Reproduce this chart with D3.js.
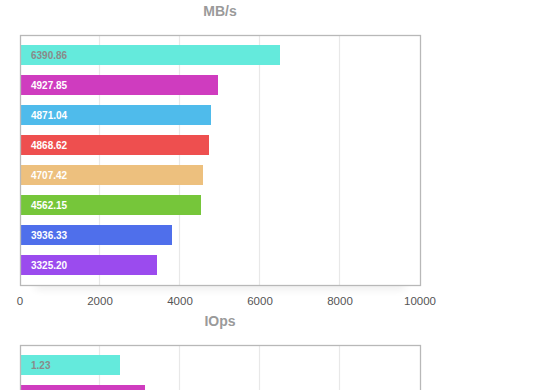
<!DOCTYPE html>
<html>
<head>
<meta charset="utf-8">
<script src="https://cdn.jsdelivr.net/npm/d3@7"></script>
<style>
	body { margin: 0; background: #fff; overflow: hidden; }
	svg { display: block; font-family: "Liberation Sans", Arial, Helvetica, sans-serif; }
</style>
</head>
<body>
<div id="chart"></div>
<script>
// bar lengths as drawn, and the text printed inside each bar
const mbValues = [6500, 4950, 4775, 4725, 4575, 4525, 3800, 3425];
const mbLabels = ["6390.86", "4927.85", "4871.04", "4868.62", "4707.42", "4562.15", "3936.33", "3325.20"];

// only the top of the second chart is in view
const iopsValues = [2500, 3125];
const iopsLabels = ["1.23"];

const barColors = ["#64eadc", "#cf3cbf", "#4fbbeb", "#ee4f4f", "#edc07e", "#76c63a", "#4f6feb", "#9b4bee"];
const xTicks = [0, 2000, 4000, 6000, 8000, 10000];
const slots = d3.range(8);

const WIDTH = 560;
const HEIGHT = 390;

const BOX = { LEFT: 20, RIGHT: 420, TOP: 35, BOTTOM: 285 };
const CHART_OFFSET = 310;

const svg = d3
	.select("#chart")
	.append("svg")
	.attr("width", WIDTH)
	.attr("height", HEIGHT);

const defs = svg.append("defs");
defs.append("filter")
	.attr("id", "shadow")
	.attr("x", "-20%").attr("y", "-200%")
	.attr("width", "140%").attr("height", "500%")
	.append("feGaussianBlur")
	.attr("stdDeviation", 4);

const xScale = d3.scaleLinear().domain([0, 10000]).range([BOX.LEFT, BOX.RIGHT]);
const yScale = d3
	.scaleBand()
	.domain(slots)
	.range([BOX.TOP, BOX.BOTTOM])
	.paddingInner(1 / 3)
	.paddingOuter(1 / 3);

function drawChart(g, title, values, labels, showTicks) {
	// title
	g.append("text")
		.attr("x", (BOX.LEFT + BOX.RIGHT) / 2)
		.attr("y", 16)
		.attr("text-anchor", "middle")
		.style("font-size", "14px")
		.style("font-weight", "bold")
		.style("fill", "#9a9a9a")
		.text(title);

	// soft shadow under the box
	g.append("rect")
		.attr("x", BOX.LEFT + 15)
		.attr("y", BOX.BOTTOM - 4)
		.attr("width", BOX.RIGHT - BOX.LEFT - 30)
		.attr("height", 8)
		.attr("fill", "#000")
		.attr("opacity", 0.08)
		.attr("filter", "url(#shadow)");

	g.append("rect")
		.attr("x", BOX.LEFT)
		.attr("y", BOX.TOP)
		.attr("width", BOX.RIGHT - BOX.LEFT)
		.attr("height", BOX.BOTTOM - BOX.TOP)
		.attr("fill", "#fff");

	// vertical grid
	g.selectAll(".grid")
		.data(xTicks.slice(1, -1))
		.join("line")
		.attr("class", "grid")
		.attr("x1", (d) => Math.round(xScale(d)) - 0.5)
		.attr("x2", (d) => Math.round(xScale(d)) - 0.5)
		.attr("y1", BOX.TOP)
		.attr("y2", BOX.BOTTOM)
		.style("stroke", "#e8e8e8")
		.style("stroke-width", 1.2);

	g.selectAll(".bar")
		.data(values)
		.join("rect")
		.attr("class", "bar")
		.attr("x", xScale(0))
		.attr("y", (d, i) => yScale(i))
		.attr("width", (d) => xScale(d) - xScale(0))
		.attr("height", yScale.bandwidth())
		.attr("fill", (d, i) => barColors[i]);

	g.selectAll(".barLabel")
		.data(labels)
		.join("text")
		.attr("class", "barLabel")
		.attr("x", xScale(0) + 11)
		.attr("y", (d, i) => yScale(i) + yScale.bandwidth() / 2 + 3.6)
		.style("font-size", "10px")
		.style("font-weight", "bold")
		.style("fill", (d, i) => (i === 0 ? "#8a8a8a" : "#fff"))
		.text((d) => d);

	// frame
	g.append("rect")
		.attr("x", BOX.LEFT + 0.5)
		.attr("y", BOX.TOP + 0.5)
		.attr("width", BOX.RIGHT - BOX.LEFT)
		.attr("height", BOX.BOTTOM - BOX.TOP)
		.attr("fill", "none")
		.style("stroke", "#b8b8b8")
		.style("stroke-width", 1.3);

	if (!showTicks) return;

	// x tick labels
	g.selectAll(".tick")
		.data(xTicks)
		.join("text")
		.attr("class", "tick")
		.attr("x", (d) => xScale(d))
		.attr("y", BOX.BOTTOM + 20)
		.attr("text-anchor", "middle")
		.style("font-size", "11.5px")
		.style("fill", "#555")
		.text((d) => d);
}

drawChart(svg.append("g"), "MB/s", mbValues, mbLabels, true);
drawChart(
	svg.append("g").attr("transform", `translate(0, ${CHART_OFFSET})`),
	"IOps",
	iopsValues,
	iopsLabels,
	false
);
</script>
</body>
</html>
